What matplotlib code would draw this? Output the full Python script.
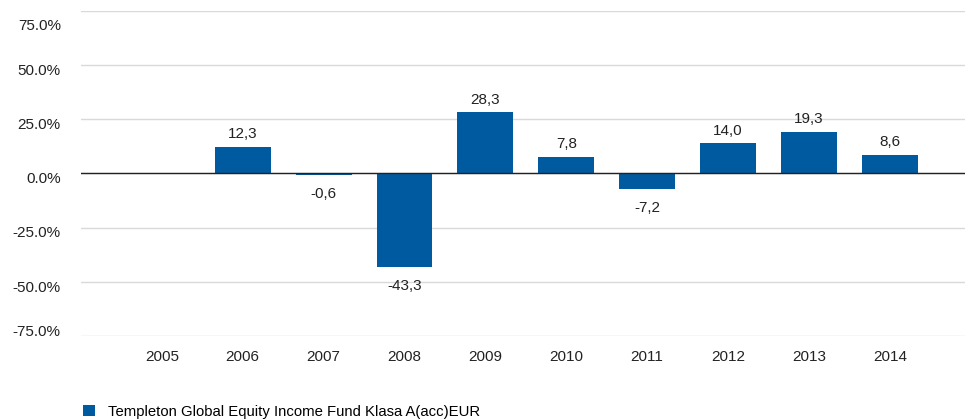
import matplotlib

matplotlib.use("Agg")

import matplotlib.pyplot as plt
import matplotlib.transforms as mtransforms
import numpy as np

years = ["2005", "2006", "2007", "2008", "2009", "2010", "2011", "2012", "2013", "2014"]
returns = [np.nan, 12.3, -0.6, -43.3, 28.3, 7.8, -7.2, 14.0, 19.3, 8.6]
yticks = [-75, -50, -25, 0, 25, 50, 75]
series_name = "Templeton Global Equity Income Fund Klasa A(acc)EUR"

BAR_COLOR = "#005AA0"
GRID_COLOR = "#D9D9D9"
TEXT_COLOR = "#222222"

plt.rcParams["font.family"] = ["Liberation Sans", "DejaVu Sans"]
FS = 11

fig = plt.figure(figsize=(9.65, 4.19), dpi=100)
ax = fig.add_axes([0.0839, 0.198, 0.922, 0.776])

x = np.arange(len(years))
vals = np.array(returns, dtype=float)
bars = ax.bar(x, np.nan_to_num(vals), width=0.69, color=BAR_COLOR, zorder=3, label=series_name)

for xpos, v in zip(x, vals):
    if np.isnan(v):
        continue
    label = f"{v:.1f}".replace(".", ",")
    if v >= 0:
        ax.annotate(label, xy=(xpos, v), xytext=(0, 4), textcoords="offset points",
                    ha="center", va="bottom", fontsize=FS, color=TEXT_COLOR)
    else:
        ax.annotate(label, xy=(xpos, v), xytext=(0, -8.5), textcoords="offset points",
                    ha="center", va="top", fontsize=FS, color=TEXT_COLOR)

ax.set_xlim(-1, 10)
ax.set_ylim(-75, 75)
ax.set_yticks(yticks)
ax.set_yticklabels([f"{t:.1f}%" for t in yticks])
ax.set_xticks(x)
ax.set_xticklabels(years)
ax.tick_params(axis="both", length=0, labelsize=FS, colors=TEXT_COLOR)
ax.tick_params(axis="y", pad=14.5)
ax.tick_params(axis="x", pad=10)

# labels sit a little below their gridline; the end labels are kept inside the plot
shifts = {-75: 4, 75: -10}
for t, lab in zip(yticks, ax.get_yticklabels()):
    dy = shifts.get(t, -3)
    lab.set_transform(lab.get_transform() + mtransforms.ScaledTranslation(0, dy / 72, fig.dpi_scale_trans))

ax.grid(axis="y", color=GRID_COLOR, linewidth=1.0, zorder=0)
ax.axhline(0, color=TEXT_COLOR, linewidth=1.0, zorder=4)
for spine in ax.spines.values():
    spine.set_visible(False)

fig.legend(handles=[bars], labels=[series_name], loc="upper left",
           bbox_to_anchor=(0.0725, 0.066), frameon=False, fontsize=10.7,
           handlelength=0.8, handleheight=0.8, handletextpad=0.87)

fig.savefig("out.png", dpi=100)
